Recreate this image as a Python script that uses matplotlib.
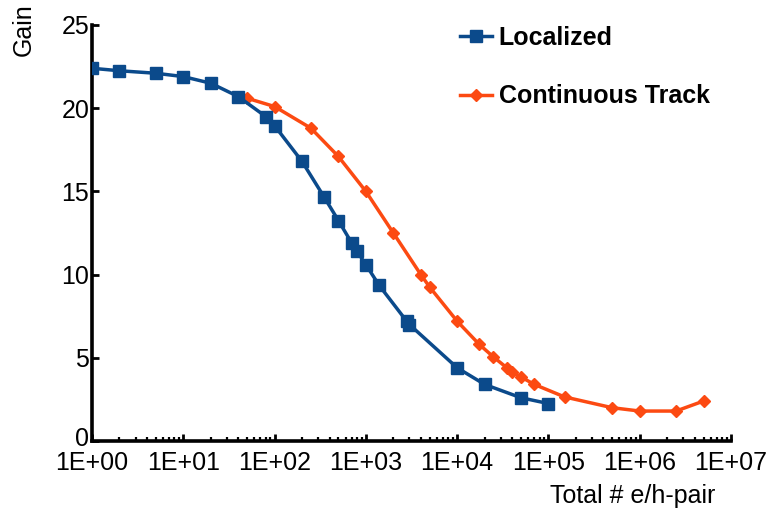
import matplotlib
matplotlib.use("Agg")
import matplotlib.pyplot as plt
import matplotlib.transforms as mtransforms
from matplotlib.ticker import LogLocator, FixedLocator, NullFormatter

plt.rcParams['font.family'] = ['Liberation Sans', 'DejaVu Sans']

# Localized
loc_x = [1, 2, 5, 10, 20, 40, 80, 100, 200, 350, 500, 700, 800, 1000,
         1400, 2800, 3000, 1e4, 2e4, 5e4, 1e5]
loc_y = [22.4, 22.25, 22.1, 21.9, 21.5, 20.7, 19.5, 18.95, 16.8, 14.65,
         13.25, 11.9, 11.4, 10.6, 9.35, 7.2, 7.0, 4.4, 3.4, 2.6, 2.25]

# Continuous Track
ct_x = [50, 100, 250, 500, 1000, 2000, 4000, 5000, 1e4, 1.75e4, 2.5e4,
        3.5e4, 4e4, 5e4, 7e4, 1.5e5, 5e5, 1e6, 2.5e6, 5e6]
ct_y = [20.6, 20.1, 18.8, 17.1, 15.0, 12.5, 10.0, 9.25, 7.2, 5.8, 5.05,
        4.4, 4.15, 3.85, 3.4, 2.65, 2.0, 1.8, 1.8, 2.4]

xticks = [1, 10, 100, 1000, 1e4, 1e5, 1e6, 1e7]
xlabels = ["1E+00", "1E+01", "1E+02", "1E+03", "1E+04", "1E+05", "1E+06", "1E+07"]
yticks = [0, 5, 10, 15, 20, 25]

blue = "#0b4a8b"
orange = "#fc4a12"

fig = plt.figure(figsize=(7.76, 5.09), dpi=100)
ax = fig.add_axes([92/776, 68/509, 639/776, 416/509])

ax.plot(loc_x, loc_y, color=blue, lw=2.5, marker="s", ms=8,
        label="Localized", zorder=3)
ax.plot(ct_x, ct_y, color=orange, lw=2.5, marker="D", ms=5.8,
        label="Continuous Track", zorder=2)

ax.set_xscale("log")
ax.set_xlim(1, 1e7)
ax.set_ylim(0, 25)
ax.xaxis.set_major_locator(FixedLocator(xticks))
ax.set_xticklabels(xlabels)
ax.xaxis.set_minor_locator(LogLocator(base=10, subs=range(2, 10), numticks=20))
ax.xaxis.set_minor_formatter(NullFormatter())
ax.set_yticks(yticks)

for s in ["top", "right"]:
    ax.spines[s].set_visible(False)
for s in ["left", "bottom"]:
    ax.spines[s].set_linewidth(2.6)

ax.tick_params(axis="both", which="major", direction="in", length=5,
               width=2, labelsize=18, pad=4)
ax.tick_params(axis="x", which="minor", direction="in", length=3, width=1.6)
ax.tick_params(axis="x", which="major", pad=7)
ax.tick_params(axis="y", which="major", pad=2)

# the "0" sits a little above the tick, like the original
fig.canvas.draw()
zero = ax.get_yticklabels()[0]
zero.set_transform(zero.get_transform() +
                   mtransforms.ScaledTranslation(0, 4/100, fig.dpi_scale_trans))

fig.text(24/776, 1 - 30/509, "Gain", rotation=90, fontsize=18,
         ha="center", va="center")
fig.text(633/776, 1 - 496/509, "Total # e/h-pair", fontsize=18,
         ha="center", va="center")

leg = ax.legend(loc="upper left", bbox_to_anchor=(0.56, 1.022), frameon=False,
                prop={"size": 18, "weight": "bold"}, handlelength=1.3,
                handletextpad=0.25, labelspacing=1.38, borderaxespad=0)

fig.savefig("out.png", dpi=100)
